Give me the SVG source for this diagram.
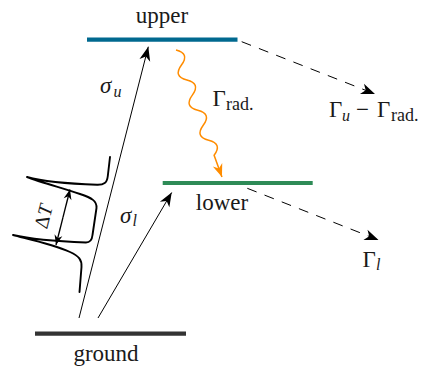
<svg xmlns="http://www.w3.org/2000/svg" width="433" height="366" viewBox="0 0 433 366">
<defs>
<marker id="st" markerUnits="userSpaceOnUse" viewBox="-15 -6.5 16 13" markerWidth="16" markerHeight="13" refX="0" refY="0" orient="auto">
<path d="M0,0 L-14,-5.5 L-10,0 L-14,5.5 Z" fill="#000"/>
</marker>
<marker id="sto" markerUnits="userSpaceOnUse" viewBox="-14 -6 15 12" markerWidth="15" markerHeight="12" refX="0" refY="0" orient="auto">
<path d="M0,0 L-13,-5 L-9,0 L-13,5 Z" fill="#ff8c00"/>
</marker>
<marker id="sts" markerUnits="userSpaceOnUse" viewBox="-11 -5 12 10" markerWidth="12" markerHeight="10" refX="0" refY="0" orient="auto">
<path d="M0,0 L-10,-4 L-7,0 L-10,4 Z" fill="#000"/>
</marker>
</defs>

<g id="upper">
<line x1="87" y1="39.7" x2="237.5" y2="39.7" stroke="#00698f" stroke-width="4.2"/>
<text font-family="'Liberation Serif', 'DejaVu Serif', serif" font-size="23" text-anchor="middle" fill="#1a1a1a" x="162" y="23">upper</text>
</g>
<g id="lower">
<line x1="162.7" y1="183" x2="312.7" y2="183" stroke="#2e8b57" stroke-width="4.2"/>
<text font-family="'Liberation Serif', 'DejaVu Serif', serif" font-size="23" text-anchor="middle" fill="#1a1a1a" x="222" y="210">lower</text>
</g>
<g id="ground">
<line x1="35" y1="333.6" x2="186" y2="333.6" stroke="#333" stroke-width="4.4"/>
<text font-family="'Liberation Serif', 'DejaVu Serif', serif" font-size="23" text-anchor="middle" fill="#1a1a1a" x="106" y="361">ground</text>
</g>

<g id="profile">
<path fill="none" stroke="#000" stroke-width="1.9" stroke-linejoin="round" stroke-linecap="round" d="M110,157 L107.8,176 C107,183 104,185 97,184.8 C75,184 45,182 27,177 C40,182 62,188 80,194 C92,198 97,201 96.5,208 L92.5,235 C92,240 90,242.5 86,242.5 C60,241.5 30,239 13,235 C28,239 52,244 70,252 C79,256 82,260 81.5,267 L79.5,292"/>
<line x1="63" y1="217.25" x2="70" y2="189.5" stroke="#000" stroke-width="1.3" marker-end="url(#sts)"/>
<line x1="63" y1="217.25" x2="56" y2="245" stroke="#000" stroke-width="1.3" marker-end="url(#sts)"/>
<text font-family="'Liberation Serif', 'DejaVu Serif', serif" fill="#1a1a1a" font-size="20" text-anchor="middle" transform="translate(50,218) rotate(-76)">Δ<tspan font-style="italic">T</tspan></text>
</g>

<g id="connectors" fill="none" stroke="#000" stroke-width="1">
<line x1="79" y1="318" x2="148.3" y2="46.7" marker-end="url(#st)"/>
<line x1="98" y1="318" x2="171.7" y2="192.5" marker-end="url(#st)"/>
<path d="M0,0 Q8,-12 16,0 T32,0 T48,0 T64,0 T80,0 T96,0 T112,0 L135,0" stroke="#ff8c00" stroke-width="1.5" transform="translate(176,50) rotate(70.1)" marker-end="url(#sto)"/>
<line stroke-dasharray="10 8.5" x1="241.7" y1="41.7" x2="375" y2="94" marker-end="url(#st)"/>
<line stroke-dasharray="10 8.5" x1="247.3" y1="188.3" x2="378.5" y2="240" marker-end="url(#st)"/>
</g>

<g id="labels" font-family="'Liberation Serif', 'DejaVu Serif', serif" fill="#1a1a1a">
<text font-size="23" font-style="italic" x="100" y="93">σ</text><text font-size="16" font-style="italic" x="113.5" y="97">u</text>
<text font-size="23" font-style="italic" x="120" y="223">σ</text><text font-size="16" font-style="italic" x="132.5" y="226">l</text>
<text font-size="23" x="212.5" y="106">Γ</text><text font-size="18" x="226" y="109.5">rad.</text>
<text font-size="23" x="329" y="117">Γ</text><text font-size="16" font-style="italic" x="342" y="121">u</text>
<text font-size="23" x="356" y="117">−</text>
<text font-size="23" x="377" y="117">Γ</text><text font-size="18" x="391" y="120.5">rad.</text>
<text font-size="23" x="362.5" y="266.5">Γ</text><text font-size="16" font-style="italic" x="376" y="270">l</text>
</g>
</svg>
